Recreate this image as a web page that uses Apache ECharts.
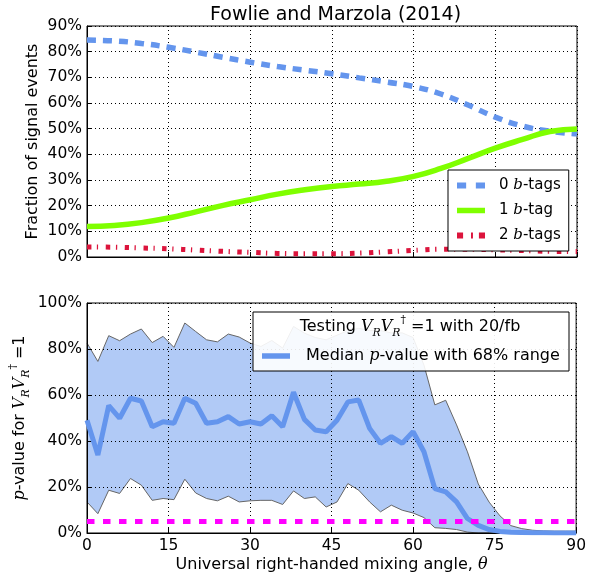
<!DOCTYPE html>
<html>
<head>
<meta charset="utf-8">
<script src="https://cdn.jsdelivr.net/npm/echarts@6/dist/echarts.min.js"></script>
<style>
  html, body { margin: 0; padding: 0; background: #fff; }
  #main { width: 589px; height: 577px; }
</style>
</head>
<body>
<div id="main"></div>
<script>
// top panel: fraction of signal events vs mixing angle (5 degree steps)
const anglesTop = [0, 5, 10, 15, 20, 25, 30, 35, 40, 45, 50, 55, 60, 65, 70, 75, 80, 85, 90];
const zeroTag = [84.5, 84.2, 83.2, 81.7, 79.8, 77.8, 75.9, 74.2, 72.8, 71.4, 69.8, 68.2, 66.4, 63.5, 59.2, 54.5, 51.0, 49.0, 48.0];
const oneTag = [11.9, 12.3, 13.4, 15.2, 17.6, 20.1, 22.3, 24.5, 26.2, 27.5, 28.4, 29.5, 31.4, 34.5, 38.4, 42.4, 45.8, 48.9, 49.9];
const twoTag = [3.9, 3.8, 3.5, 3.2, 2.7, 2.2, 1.8, 1.4, 1.3, 1.3, 1.5, 2.0, 2.6, 3.0, 3.0, 2.8, 2.5, 2.2, 2.1];

// bottom panel: p-value (2 degree steps)
const anglesBottom = [0, 2, 4, 6, 8, 10, 12, 14, 16, 18, 20, 22, 24, 26, 28, 30, 32, 34, 36, 38, 40, 42, 44,
  46, 48, 50, 52, 54, 56, 58, 60, 62, 64, 66, 68, 70, 72, 74, 76, 78, 80, 82, 84, 86, 88, 90];
const medianP = [49, 33.9, 55.4, 49.9, 58.6, 57.4, 46.2, 48.4, 47.7, 58.6, 56.4, 47.7, 48.4, 50.6, 47.4, 48.4, 47.4, 51, 46.2, 61.2, 49.4, 44.8, 44,
  49, 57, 57.8, 45.5, 39, 41.9, 39, 44, 35.3, 19.3, 17.9, 13.5, 6.3, 3.3, 1.5, 0.7, 0.3, 0.2, 0.1, 0.1, 0, 0, 0];
const upperP = [82.6, 74.6, 85.8, 83.6, 86.5, 88.7, 82.8, 85.5, 80.7, 91.3, 87.6, 84, 83.1, 86.5, 85.2, 82.6, 81.1, 83.7, 80.4, 89.8, 86.9, 85, 84,
  86, 88, 89, 88, 88, 87, 87, 85, 73, 55.7, 57.7, 47, 35.3, 21.3, 13.4, 7.4, 3.2, 1.9, 1.2, 0.9, 0.8, 0.8, 0.8];
const lowerP = [13.5, 8.4, 18.6, 17.2, 23.7, 20.8, 14.2, 15, 14.5, 23.4, 17.4, 15, 14, 16, 13.5, 14, 14.2, 14.2, 12.4, 18.3, 15, 15.7, 11.3,
  13.5, 21.5, 18.6, 13.5, 9.2, 12.1, 9.9, 8.7, 6.7, 2.3, 2, 1.5, 0.4, 0, 0, 0, 0, 0, 0, 0, 0, 0, 0];
const thresholdX = [0, 90];
const thresholdY = [5, 5];

const FONT = 'DejaVu Sans';
const pairs = (xs, ys) => xs.map((x, i) => [x, ys[i]]);

function mathRich(size) {
  return {
    i: { fontFamily: 'DejaVu Serif', fontStyle: 'italic', fontSize: size, color: '#000' },
    sub: { fontFamily: 'DejaVu Serif', fontStyle: 'italic', fontSize: size * 0.68, color: '#000', verticalAlign: 'bottom', lineHeight: 24 },
    sup: { fontFamily: 'DejaVu Serif', fontSize: size * 0.68, color: '#000', verticalAlign: 'top', lineHeight: 24 },
    n: { fontFamily: FONT, fontSize: size, color: '#000', lineHeight: 24 }
  };
}

// legend handles drawn as little dashed / solid bars
const iconDashed = 'path://M0,0h8.5v5.5h-8.5zM17.5,0h8.5v5.5h-8.5z';
const iconSolid = 'path://M0,0h28v5.5h-28z';
const iconDashDot = 'path://M0,0h5v5h-5zM11.5,0h1.6v5h-1.6zM18,0h5v5h-5z';

function xAxisFor(gridIndex, showLabels) {
  return {
    type: 'value', gridIndex: gridIndex, min: 0, max: 90, interval: 15,
    axisLine: { show: true, lineStyle: { color: '#000', width: 1 } },
    axisTick: { show: true, inside: true, length: 5, lineStyle: { color: '#000' } },
    axisLabel: { show: showLabels, fontFamily: FONT, fontSize: 15.5, color: '#000', margin: 5 },
    splitLine: { show: true, lineStyle: { color: '#000', type: [1, 3], width: 1 } },
    name: showLabels ? 'Universal right-handed mixing angle, {i|θ}' : '',
    nameLocation: 'middle', nameGap: 24, nameMoveOverlap: false,
    nameTextStyle: { fontFamily: FONT, fontSize: 16, color: '#000', rich: mathRich(16) }
  };
}

function yAxisFor(gridIndex, max, interval, name, gap) {
  return {
    type: 'value', gridIndex: gridIndex, min: 0, max: max, interval: interval,
    axisLine: { show: true, lineStyle: { color: '#000', width: 1 } },
    axisTick: { show: true, inside: true, length: 5, lineStyle: { color: '#000' } },
    axisLabel: { fontFamily: FONT, fontSize: 15.5, color: '#000', margin: 5, formatter: '{value}%' },
    splitLine: { show: true, lineStyle: { color: '#000', type: [1, 3], width: 1 } },
    name: name, nameLocation: 'middle', nameGap: gap, nameRotate: 90, nameMoveOverlap: false,
    nameTextStyle: { fontFamily: FONT, fontSize: 16, color: '#000', rich: mathRich(16) }
  };
}

const tagNames = { '0 b-tags': '0 {i|b}-tags', '1 b-tag': '1 {i|b}-tag', '2 b-tags': '2 {i|b}-tags' };

const chart = echarts.init(document.getElementById('main'));

chart.setOption({
  animation: false,
  backgroundColor: '#fff',
  title: {
    text: 'Fowlie and Marzola (2014)',
    left: 205, top: 1,
    textStyle: { fontFamily: FONT, fontSize: 19, fontWeight: 'normal', color: '#000' }
  },
  grid: [
    { left: 87, top: 26, width: 490, height: 231, show: true, borderColor: '#000', borderWidth: 1 },
    { left: 87, top: 303, width: 490, height: 230, show: true, borderColor: '#000', borderWidth: 1 }
  ],
  xAxis: [xAxisFor(0, false), xAxisFor(1, true)],
  yAxis: [
    yAxisFor(0, 90, 10, 'Fraction of signal events', 46),
    yAxisFor(1, 100, 20, '{i|p}{n|-value for }{i|V}{sub|R}{i|V}{sub|R}{sup|†}{n| =1}', 55)
  ],
  legend: [
    {
      data: [
        { name: '0 b-tags', icon: iconDashed },
        { name: '1 b-tag', icon: iconSolid },
        { name: '2 b-tags', icon: iconDashDot }
      ],
      orient: 'vertical', left: 448, top: 170,
      padding: [8, 8, 8, 9], itemGap: 10, itemWidth: 28, itemHeight: 14,
      backgroundColor: '#fff', borderColor: '#000', borderWidth: 1,
      formatter: name => tagNames[name],
      textStyle: { fontFamily: FONT, fontSize: 15, color: '#000', padding: [0, 0, 0, 9], rich: mathRich(15) },
      z: 20
    },
    {
      data: [{ name: 'Median p-value with 68% range', icon: iconSolid }],
      left: 262, top: 348, padding: 0,
      itemWidth: 28, itemHeight: 14,
      formatter: () => 'Median {i|p}-value with 68% range',
      textStyle: { fontFamily: FONT, fontSize: 16, color: '#000', padding: [0, 0, 0, 11], rich: mathRich(16) },
      z: 20
    }
  ],
  graphic: [
    {
      type: 'rect', z: 15, silent: true,
      shape: { x: 253, y: 312, width: 316, height: 59 },
      style: { fill: 'rgba(255,255,255,0.9)', stroke: '#000', lineWidth: 1 }
    },
    {
      type: 'text', z: 21, silent: true, x: 410, y: 327,
      style: {
        text: '{n|Testing }{i|V}{sub|R}{i|V}{sub|R}{sup|†}{n| =1 with 20/fb}',
        align: 'center', verticalAlign: 'middle', rich: mathRich(16)
      }
    }
  ],
  series: [
    {
      name: '0 b-tags', type: 'line', xAxisIndex: 0, yAxisIndex: 0,
      data: pairs(anglesTop, zeroTag), smooth: true, symbol: 'none',
      lineStyle: { color: '#6495ED', width: 5.5, type: [9, 7], cap: 'butt' },
      itemStyle: { color: '#6495ED' }
    },
    {
      name: '1 b-tag', type: 'line', xAxisIndex: 0, yAxisIndex: 0,
      data: pairs(anglesTop, oneTag), smooth: true, symbol: 'none',
      lineStyle: { color: '#7FFF00', width: 5.5 },
      itemStyle: { color: '#7FFF00' }
    },
    {
      name: '2 b-tags', type: 'line', xAxisIndex: 0, yAxisIndex: 0,
      data: pairs(anglesTop, twoTag), smooth: true, symbol: 'none',
      lineStyle: { color: '#DC143C', width: 5, type: [4.5, 5.5, 1.3, 7.5], cap: 'butt' },
      itemStyle: { color: '#DC143C' }
    },
    {
      // 68% band: upper edge filled down to zero, then the part below the lower edge blanked out
      name: 'band-upper', type: 'line', xAxisIndex: 1, yAxisIndex: 1, z: -1,
      data: pairs(anglesBottom, upperP), symbol: 'none',
      lineStyle: { color: '#666', width: 1 },
      areaStyle: { color: 'rgb(177,202,246)', opacity: 1 }
    },
    {
      name: 'band-lower', type: 'line', xAxisIndex: 1, yAxisIndex: 1, z: -1,
      data: pairs(anglesBottom, lowerP), symbol: 'none',
      lineStyle: { color: '#666', width: 1 },
      areaStyle: { color: '#fff', opacity: 1 }
    },
    {
      name: 'Median p-value with 68% range', type: 'line', xAxisIndex: 1, yAxisIndex: 1,
      data: pairs(anglesBottom, medianP), symbol: 'none',
      lineStyle: { color: '#6495ED', width: 5 },
      itemStyle: { color: '#6495ED' }
    },
    {
      name: 'threshold', type: 'line', xAxisIndex: 1, yAxisIndex: 1,
      data: pairs(thresholdX, thresholdY), symbol: 'none',
      lineStyle: { color: '#FF00FF', width: 5, type: [7.5, 8.5], cap: 'butt' }
    }
  ]
});
</script>
</body>
</html>
